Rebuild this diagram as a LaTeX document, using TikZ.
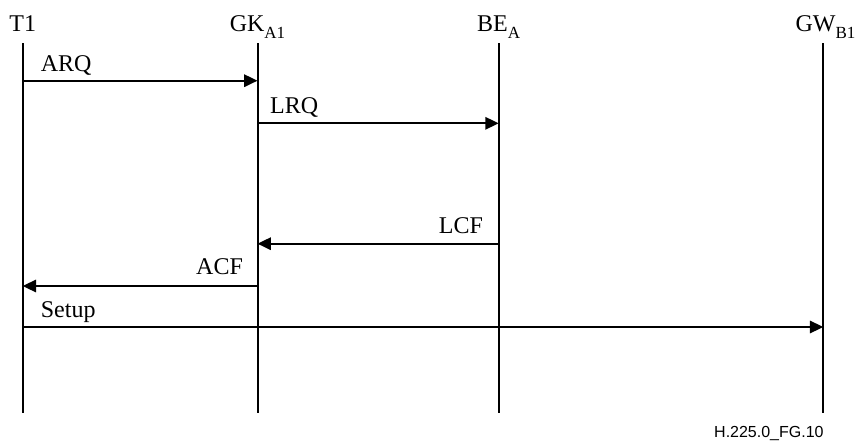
\documentclass[tikz,border=0pt]{standalone}
\usepackage{fontspec}
\setmainfont{Liberation Serif}
\newfontfamily\figreffont{Liberation Sans}
\usetikzlibrary{arrows.meta}
% Subscript set well below the line, as in the entity names
\newcommand{\entsub}[1]{\raisebox{-3.5pt}{\fontsize{8.5}{10}\selectfont #1}}
\tikzset{
    % Solid triangle heads, as in the recommendation figures
    >={Triangle[length=6.7pt,width=6.2pt]},
%
    % Vertical line below each entity
    life line/.style={draw, line width=1pt},
%
    % A message sent from one entity to another
    message/.style={draw, line width=1pt, ->},
%
    % Entity names along the top
    entity/.style={anchor=base, inner sep=0pt},
%
    % Text written over a message
    message label/.style={inner sep=0pt, pos=0}}

\begin{document}
\begin{tikzpicture}[x=0.5pt, y=-0.5pt, font=\fontsize{12}{14}\selectfont]

\useasboundingbox (0,0) rectangle (859,441);

% Entities and their life lines

\node [entity] (T1) at (22.7,31) {T1};
\node [entity] (GK) at (257.5,31) {GK\entsub{A1}};
\node [entity] (BE) at (498.7,31) {BE\entsub{A}};
\node [entity] (GW) at (825.5,31) {GW\entsub{B1}};

\foreach \ent/\x in {T1/22.7, GK/257.5, BE/498.7, GW/823.3} {
    \coordinate (\ent-top) at (\x,43);
    \coordinate (\ent-bottom) at (\x,413);
    \draw [life line] (\ent-top) -- (\ent-bottom);
}

% Messages, top to bottom

\coordinate (arq) at (0,80.7);
\coordinate (lrq) at (0,123.3);
\coordinate (lcf) at (0,243.7);
\coordinate (acf) at (0,286);
\coordinate (setup) at (0,327);

\draw [message] (T1-top |- arq) -- (GK-top |- arq)
    node [message label, anchor=base west, xshift=8.6pt, yshift=4.5pt] {ARQ};
\draw [message] (GK-top |- lrq) -- (BE-top |- lrq)
    node [message label, anchor=base west, xshift=5.8pt, yshift=5pt] {LRQ};
\draw [message] (BE-top |- lcf) -- (GK-top |- lcf)
    node [message label, anchor=base east, xshift=-7.4pt, yshift=5.3pt] {LCF};
\draw [message] (GK-top |- acf) -- (T1-top |- acf)
    node [message label, anchor=base east, xshift=-6.8pt, yshift=6pt] {ACF};
\draw [message] (T1-top |- setup) -- (GW-top |- setup)
    node [message label, anchor=base west, xshift=8.6pt, yshift=5pt] {Setup};

\node [anchor=base east, inner sep=0pt, font=\figreffont\fontsize{8}{10}\selectfont]
    (figref) at (824,437) {H.225.0\_FG.10};

\end{tikzpicture}
\end{document}
